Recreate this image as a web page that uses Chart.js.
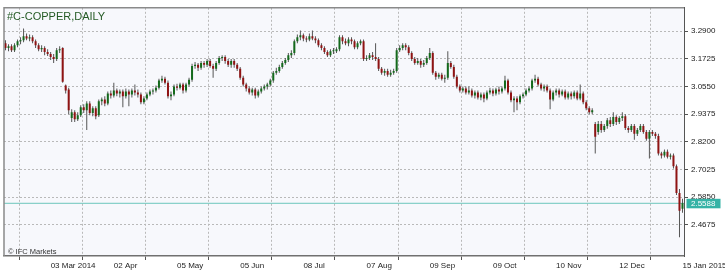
<!DOCTYPE html>
<html><head><meta charset="utf-8">
<script src="https://cdn.jsdelivr.net/npm/chart.js@4"></script>
<style>html,body{margin:0;padding:0;background:#fff}canvas{display:block}</style>
</head><body>
<canvas id="c" width="725" height="272"></canvas>
<script>
const chartTitle = '#C-COPPER,DAILY';
const copyright = '\u00A9 IFC Markets';
const openP = [
3.239,3.218,3.226,3.209,3.230,3.247,3.251,3.268,3.259,3.264,
3.247,3.230,3.213,3.218,3.201,3.193,3.180,3.172,3.209,3.218,
3.059,3.042,2.921,2.946,2.916,2.933,2.967,2.954,2.983,2.942,
2.962,2.933,2.992,3.000,2.983,3.025,3.017,3.038,3.025,3.034,
3.013,3.034,3.021,3.038,3.029,3.021,2.988,3.004,3.021,3.034,
3.038,3.050,3.080,3.088,3.071,3.013,3.021,3.055,3.050,3.063,
3.038,3.063,3.084,3.142,3.147,3.134,3.155,3.147,3.163,3.142,
3.130,3.155,3.176,3.180,3.163,3.147,3.163,3.147,3.130,3.092,
3.063,3.046,3.029,3.042,3.017,3.034,3.046,3.055,3.063,3.080,
3.113,3.121,3.138,3.155,3.167,3.188,3.197,3.247,3.264,3.272,
3.259,3.255,3.268,3.259,3.251,3.230,3.218,3.201,3.188,3.205,
3.205,3.213,3.264,3.247,3.239,3.255,3.247,3.222,3.239,3.247,
3.172,3.176,3.188,3.180,3.172,3.130,3.113,3.121,3.105,3.113,
3.121,3.209,3.218,3.230,3.222,3.197,3.172,3.155,3.163,3.147,
3.155,3.176,3.197,3.113,3.096,3.105,3.088,3.092,3.155,3.138,
3.096,3.055,3.038,3.046,3.029,3.038,3.017,3.029,3.008,3.021,
3.004,3.029,3.038,3.025,3.042,3.034,3.046,3.080,3.029,2.996,
3.004,2.988,3.013,3.021,3.038,3.046,3.080,3.088,3.063,3.046,
3.055,3.038,3.000,3.029,3.038,3.021,3.034,3.008,3.025,3.013,
3.029,3.004,3.025,2.988,2.962,2.946,2.896,2.862,2.896,2.870,
2.887,2.912,2.896,2.925,2.904,2.921,2.929,2.879,2.870,2.887,
2.854,2.870,2.887,2.862,2.833,2.862,2.854,2.845,2.770,2.762,
2.778,2.757,2.762,2.716,2.603,2.536];
const highP = [
3.251,3.234,3.234,3.239,3.255,3.264,3.301,3.280,3.276,3.272,
3.255,3.239,3.230,3.226,3.213,3.201,3.193,3.218,3.226,3.222,
3.063,3.050,2.958,2.954,2.946,2.975,2.979,2.992,2.992,2.971,
2.971,3.000,3.008,3.013,3.034,3.038,3.071,3.046,3.042,3.042,
3.046,3.042,3.046,3.063,3.042,3.029,3.013,3.029,3.042,3.046,
3.059,3.088,3.101,3.096,3.080,3.034,3.063,3.067,3.071,3.071,
3.071,3.092,3.151,3.159,3.155,3.163,3.163,3.172,3.172,3.151,
3.163,3.184,3.188,3.188,3.172,3.172,3.172,3.155,3.138,3.101,
3.071,3.055,3.050,3.050,3.042,3.055,3.063,3.071,3.088,3.121,
3.134,3.147,3.163,3.176,3.197,3.209,3.255,3.276,3.293,3.280,
3.268,3.280,3.293,3.268,3.259,3.239,3.226,3.209,3.213,3.218,
3.222,3.272,3.272,3.259,3.264,3.264,3.255,3.247,3.255,3.255,
3.188,3.197,3.201,3.239,3.180,3.138,3.130,3.130,3.126,3.130,
3.218,3.230,3.239,3.239,3.230,3.205,3.180,3.176,3.172,3.167,
3.184,3.218,3.205,3.121,3.113,3.113,3.105,3.205,3.163,3.147,
3.105,3.063,3.055,3.055,3.055,3.046,3.038,3.038,3.029,3.029,
3.038,3.050,3.046,3.050,3.055,3.055,3.101,3.088,3.038,3.013,
3.013,3.021,3.029,3.046,3.055,3.088,3.105,3.096,3.071,3.063,
3.063,3.046,3.038,3.046,3.046,3.042,3.042,3.034,3.034,3.038,
3.038,3.063,3.034,2.996,2.971,2.962,2.904,2.908,2.908,2.896,
2.921,2.925,2.946,2.933,2.929,2.946,2.937,2.887,2.896,2.896,
2.879,2.896,2.896,2.870,2.870,2.870,2.862,2.854,2.778,2.787,
2.787,2.770,2.770,2.724,2.620,2.578];
const lowP = [
3.209,3.205,3.201,3.201,3.222,3.234,3.243,3.251,3.247,3.239,
3.218,3.205,3.201,3.188,3.184,3.167,3.155,3.163,3.197,3.071,
3.025,2.937,2.904,2.904,2.908,2.925,2.942,2.870,2.933,2.929,
2.916,2.925,2.975,2.971,2.975,3.004,3.008,3.013,3.008,2.967,
3.004,2.971,3.008,3.017,3.008,2.979,2.979,2.996,3.013,3.021,
3.029,3.042,3.071,3.063,3.004,2.996,3.013,3.038,3.042,3.025,
3.029,3.055,3.075,3.130,3.121,3.126,3.134,3.138,3.134,3.092,
3.121,3.147,3.163,3.151,3.138,3.134,3.134,3.121,3.084,3.055,
3.034,3.021,3.017,3.004,3.008,3.025,3.038,3.042,3.055,3.071,
3.105,3.113,3.130,3.147,3.159,3.176,3.188,3.239,3.251,3.247,
3.243,3.247,3.251,3.239,3.222,3.209,3.193,3.180,3.180,3.193,
3.197,3.205,3.234,3.230,3.226,3.234,3.213,3.213,3.230,3.163,
3.163,3.167,3.167,3.163,3.121,3.105,3.101,3.096,3.096,3.105,
3.113,3.201,3.209,3.209,3.188,3.163,3.147,3.147,3.134,3.138,
3.147,3.167,3.105,3.084,3.088,3.080,3.071,3.084,3.130,3.088,
3.046,3.029,3.029,3.021,3.021,3.008,3.004,3.000,2.996,2.988,
2.996,3.021,3.013,3.017,3.021,3.025,3.038,3.021,2.988,2.946,
2.954,2.979,3.004,3.013,3.029,3.038,3.071,3.055,3.038,3.034,
3.029,2.958,2.992,3.017,3.008,3.013,3.000,3.000,3.000,3.004,
2.996,2.996,2.979,2.954,2.937,2.937,2.770,2.850,2.858,2.862,
2.875,2.883,2.887,2.891,2.896,2.908,2.870,2.858,2.862,2.829,
2.845,2.862,2.854,2.824,2.749,2.845,2.833,2.762,2.749,2.753,
2.749,2.745,2.707,2.594,2.415,2.519];
const closeP = [
3.218,3.226,3.209,3.230,3.247,3.251,3.268,3.259,3.264,3.247,
3.230,3.213,3.218,3.201,3.193,3.180,3.172,3.209,3.213,3.075,
3.038,2.954,2.946,2.916,2.933,2.967,2.954,2.983,2.942,2.962,
2.929,2.992,3.000,2.983,3.025,3.017,3.038,3.025,3.034,3.013,
3.034,3.021,3.038,3.029,3.021,2.988,3.004,3.021,3.034,3.038,
3.050,3.080,3.088,3.071,3.013,3.021,3.055,3.050,3.063,3.038,
3.063,3.084,3.142,3.147,3.134,3.155,3.147,3.163,3.142,3.130,
3.155,3.176,3.180,3.163,3.147,3.163,3.147,3.130,3.092,3.063,
3.046,3.029,3.042,3.017,3.034,3.046,3.055,3.063,3.080,3.113,
3.121,3.138,3.155,3.167,3.188,3.197,3.247,3.264,3.272,3.259,
3.255,3.268,3.259,3.251,3.230,3.218,3.201,3.188,3.205,3.205,
3.213,3.264,3.247,3.239,3.255,3.247,3.222,3.239,3.247,3.172,
3.176,3.188,3.180,3.172,3.130,3.113,3.121,3.105,3.113,3.121,
3.209,3.218,3.230,3.222,3.197,3.172,3.155,3.163,3.147,3.155,
3.176,3.197,3.113,3.096,3.105,3.088,3.092,3.155,3.138,3.096,
3.055,3.038,3.046,3.029,3.038,3.017,3.029,3.008,3.021,3.004,
3.029,3.038,3.025,3.042,3.034,3.046,3.080,3.029,2.996,3.004,
2.988,3.013,3.021,3.038,3.046,3.080,3.088,3.063,3.046,3.055,
3.038,3.000,3.029,3.038,3.021,3.034,3.008,3.025,3.013,3.029,
3.004,3.025,2.988,2.962,2.946,2.954,2.841,2.896,2.870,2.887,
2.912,2.896,2.925,2.904,2.921,2.929,2.879,2.870,2.887,2.854,
2.870,2.887,2.862,2.833,2.862,2.854,2.845,2.770,2.762,2.778,
2.757,2.762,2.716,2.603,2.527,2.5588];
const dateTickBars = [15, 36, 57, 78, 99, 120, 141, 162, 183, 204, 225];
const dateTickLabels = ['03 Mar 2014','02 Apr','05 May','05 Jun','08 Jul','07 Aug','09 Sep','09 Oct','10 Nov','12 Dec','15 Jan 2015'];
const priceTicks = [3.2900, 3.1725, 3.0550, 2.9375, 2.8200, 2.7025, 2.5850, 2.4675];
const priceMin = 2.3350, priceMax = 3.3891;

const N = closeP.length;
const lastPrice = closeP[N - 1];
const FONT = '"Liberation Sans", Arial, sans-serif';

const deco = {
  id: 'deco',
  beforeDraw(chart) {
    const {ctx, chartArea: a} = chart;
    ctx.save();
    ctx.fillStyle = '#f7f8fc';
    ctx.fillRect(a.left, a.top, a.right - a.left, a.bottom - a.top);
    ctx.restore();
  },
  afterDraw(chart) {
    const {ctx, chartArea: a, scales: {y}} = chart;
    ctx.save();
    ctx.strokeStyle = '#8a8a8a';
    ctx.lineWidth = 1.5;
    ctx.beginPath();
    ctx.moveTo(a.left, a.bottom);
    ctx.lineTo(a.left, a.top);
    ctx.lineTo(a.right, a.top);
    ctx.stroke();
    ctx.fillStyle = '#245a24';
    ctx.font = '11px ' + FONT;
    ctx.textBaseline = 'alphabetic';
    ctx.textAlign = 'left';
    ctx.fillText(chartTitle, a.left + 3, a.top + 12);
    ctx.fillStyle = '#333';
    ctx.font = '7.5px ' + FONT;
    ctx.fillText(copyright, a.left + 4, a.bottom - 2);
    const py = y.getPixelForValue(lastPrice);
    ctx.fillStyle = '#35b3a6';
    ctx.fillRect(a.right + 2.5, py - 4.5, 34, 9.5);
    ctx.fillStyle = '#ffffff';
    ctx.font = '8px ' + FONT;
    ctx.textBaseline = 'middle';
    ctx.fillText(lastPrice.toFixed(4), a.right + 7, py + 0.5);
    ctx.restore();
  }
};

new Chart(document.getElementById('c'), {
  type: 'bar',
  data: {
    datasets: [
      {
        type: 'line',
        data: [{x: -0.5, y: lastPrice}, {x: N - 0.5, y: lastPrice}],
        borderColor: '#6cc6bc', borderWidth: 1, pointRadius: 0, order: 3
      },
      {
        data: closeP.map((_, i) => ({x: i, y: [lowP[i], highP[i]]})),
        backgroundColor: '#555555', barThickness: 1, grouped: false,
        inflateAmount: 0, minBarLength: 1, borderWidth: 0, order: 2
      },
      {
        data: closeP.map((_, i) => ({x: i, y: [openP[i], closeP[i]]})),
        backgroundColor: c => closeP[c.dataIndex] >= openP[c.dataIndex] ? '#146a1c' : '#8f1313',
        barThickness: 2, grouped: false, inflateAmount: 0, minBarLength: 1, borderWidth: 0, order: 1
      }
    ]
  },
  options: {
    responsive: false, animation: false, devicePixelRatio: 1,
    layout: {padding: {left: 4, top: 4, right: 0, bottom: 0}},
    plugins: {legend: {display: false}, tooltip: {enabled: false}},
    scales: {
      x: {
        type: 'linear', min: -0.5, max: N - 0.5, offset: false,
        afterBuildTicks: s => { s.ticks = dateTickBars.map(v => ({value: v})); },
        afterFit: s => { s.height = 16; s.paddingLeft = 0; s.paddingRight = 0; },
        ticks: {
          autoSkip: false, maxRotation: 0, minRotation: 0, align: 'start', padding: 1,
          color: '#222', font: {family: FONT, size: 8},
          callback: (v, i) => dateTickLabels[i]
        },
        grid: {color: '#b9b9b9', tickColor: '#555', tickLength: 4},
        border: {display: true, color: '#707070', width: 1.5, dash: [2, 2]}
      },
      y: {
        position: 'right', min: priceMin, max: priceMax,
        afterBuildTicks: s => { s.ticks = priceTicks.map(v => ({value: v})); },
        afterFit: s => { s.width = 41; },
        ticks: {
          padding: 3, color: '#222', font: {family: FONT, size: 8},
          callback: v => Number(v).toFixed(4)
        },
        grid: {color: '#b9b9b9', tickColor: '#555', tickLength: 4},
        border: {display: true, color: '#555', width: 1, dash: [2, 2]}
      }
    }
  },
  plugins: [deco]
});
</script>
</body></html>
